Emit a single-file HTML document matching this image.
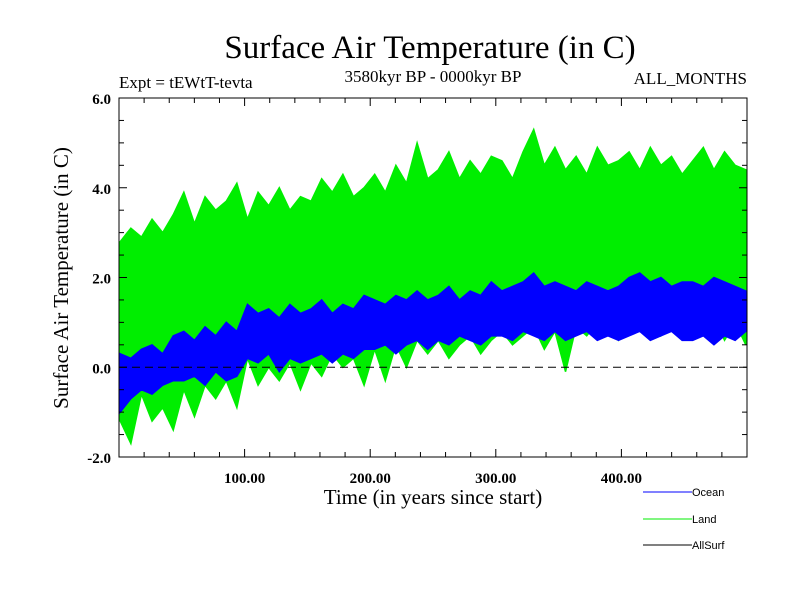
<!DOCTYPE html>
<html><head><meta charset="utf-8"><style>
body{margin:0;background:#fff}
svg{display:block;font-family:"Liberation Serif",serif}
</style></head><body>
<svg id="chart" width="800" height="600">
<text x="430" y="58" font-size="33" text-anchor="middle">Surface Air Temperature (in C)</text>
<text x="119" y="88" font-size="17">Expt = tEWtT-tevta</text>
<text x="433" y="82" font-size="17" text-anchor="middle">3580kyr BP - 0000kyr BP</text>
<text x="747" y="84" font-size="17" text-anchor="end">ALL_MONTHS</text>
<text x="433" y="504" font-size="21" text-anchor="middle">Time (in years since start)</text>
<text transform="translate(68,278) rotate(-90)" font-size="21" text-anchor="middle">Surface Air Temperature (in C)</text>
<g id="plot"></g>
<g id="legend" font-family="Liberation Sans,sans-serif" font-size="11">
<line x1="643" y1="492" x2="692" y2="492" stroke="#0000ff"/>
<text x="692" y="496">Ocean</text>
<line x1="643" y1="519" x2="692" y2="519" stroke="#00ee00"/>
<text x="692" y="523">Land</text>
<line x1="643" y1="545" x2="692" y2="545" stroke="#000"/>
<text x="692" y="549">AllSurf</text>
</g>
</svg>
<script>
const xTicks=[100,200,300,400];
const xTickLabels=["100.00","200.00","300.00","400.00"];
const yTicks=[-2,0,2,4,6];
const yTickLabels=["-2.0","0.0","2.0","4.0","6.0"];
const landHi=[2.8,3.1,2.9,3.3,3.0,3.4, 3.9,3.2,3.8,3.5,3.7,4.1, 3.3,3.9,3.6,4.0,3.5,3.8, 3.7,4.2,3.9,4.3,3.8,4.0, 4.3,3.9,4.5,4.1,5.0,4.2, 4.4,4.8,4.2,4.6,4.3,4.7, 4.6,4.2,4.8,5.3,4.5,4.9, 4.4,4.7,4.3,4.9,4.5,4.6, 4.8,4.4,4.9,4.5,4.7,4.3, 4.6,4.9,4.4,4.8,4.5,4.4];
const landLo=[-1.2,-1.7,-0.6,-1.2,-0.9,-1.4, -0.5,-1.1,-0.4,-0.7,-0.3,-0.9, 0.2,-0.4,0.0,-0.3,0.1,-0.5, 0.1,-0.2,0.3,0.0,0.2,-0.4, 0.4,-0.3,0.5,0.0,0.6,0.3, 0.6,0.2,0.5,0.7,0.3,0.6, 0.8,0.5,0.7,0.9,0.4,0.8, -0.1,0.9,0.7,1.0,0.8,0.6, 1.0,0.8,1.1,0.7,1.0,0.9, 1.0,0.8,1.1,0.6,1.0,0.5];
const oceanHi=[0.3,0.2,0.4,0.5,0.3,0.7, 0.8,0.6,0.9,0.7,1.0,0.8, 1.4,1.2,1.3,1.1,1.4,1.2, 1.3,1.5,1.2,1.4,1.3,1.6, 1.5,1.4,1.6,1.5,1.7,1.5, 1.6,1.8,1.5,1.7,1.6,1.9, 1.7,1.8,1.9,2.1,1.8,1.9, 1.8,1.7,1.9,1.8,1.7,1.8, 2.0,2.1,1.9,2.0,1.8,1.9, 1.9,1.8,2.0,1.9,1.8,1.7];
const oceanLo=[-1.0,-0.7,-0.5,-0.6,-0.4,-0.3, -0.3,-0.2,-0.4,-0.1,-0.3,-0.2, 0.2,0.1,0.3,-0.1,0.2,0.1, 0.2,0.3,0.1,0.3,0.2,0.4, 0.4,0.5,0.3,0.5,0.6,0.4, 0.6,0.5,0.7,0.6,0.5,0.7, 0.7,0.6,0.8,0.7,0.6,0.8, 0.6,0.7,0.8,0.6,0.7,0.6, 0.7,0.8,0.6,0.7,0.8,0.6, 0.6,0.7,0.5,0.7,0.6,0.8];
const L=119,R=747,T=98,B=457,X0=0,X1=500,Y0=-2,Y1=6;
const sx=v=>L+(v-X0)/(X1-X0)*(R-L);
const sy=v=>B-(v-Y0)/(Y1-Y0)*(B-T);
const NS="http://www.w3.org/2000/svg";
const g=document.getElementById('plot');
function mk(t,a){const e=document.createElementNS(NS,t);for(const k in a)e.setAttribute(k,a[k]);g.appendChild(e);return e;}
function area(hi,lo,col,name){
  const n=hi.length,step=(X1-X0-2)/(n-1);const pts=[];
  for(let i=0;i<n;i++)pts.push(sx(1+i*step)+','+sy(hi[i]));
  for(let i=n-1;i>=0;i--)pts.push(sx(1+i*step)+','+sy(lo[i]));
  const e=mk('polygon',{points:pts.join(' '),fill:col,stroke:col,'stroke-width':1.5});
  
  
}
area(landHi,landLo,'#00ee00','land-series');
area(oceanHi,oceanLo,'#0000ff','ocean-series');
const z=mk('line',{x1:L,x2:R,y1:sy(0),y2:sy(0),stroke:'#000','stroke-dasharray':'8,5'});


const fr=mk('rect',{x:L,y:T,width:R-L,height:B-T,fill:'none',stroke:'#000'});


for(let v=20;v<X1;v+=20){const big=v%100===0,l=big?8:5;
  mk('line',{x1:sx(v),x2:sx(v),y1:B,y2:B-l,stroke:'#000'});
  mk('line',{x1:sx(v),x2:sx(v),y1:T,y2:T+l,stroke:'#000'});}
for(let v=-1.5;v<6;v+=0.5){const big=v%2===0,l=big?8:5;
  mk('line',{x1:L,x2:L+l,y1:sy(v),y2:sy(v),stroke:'#000'});
  mk('line',{x1:R,x2:R-l,y1:sy(v),y2:sy(v),stroke:'#000'});}
xTicks.forEach((v,i)=>{const t=mk('text',{x:sx(v),y:B+26,'font-size':15,'font-weight':'bold','text-anchor':'middle'});t.textContent=xTickLabels[i];
  
  });
yTicks.forEach((v,i)=>{const t=mk('text',{x:L-8,y:sy(v)+6,'font-size':15,'font-weight':'bold','text-anchor':'end'});t.textContent=yTickLabels[i];
  
  });
</script>
</body></html>
